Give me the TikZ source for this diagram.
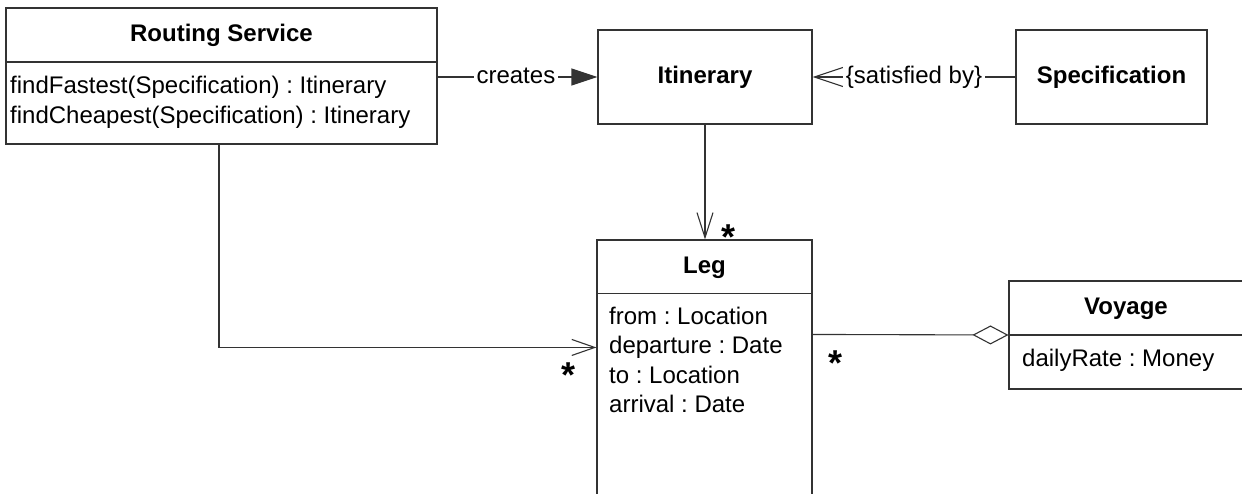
\documentclass[tikz,border=0pt]{standalone}
\usepackage{fontspec}
\setmainfont{Liberation Sans}
\usetikzlibrary{arrows.meta,calc}
\frenchspacing
\begin{document}
\begin{tikzpicture}[x=1pt,y=-1pt,
  box/.style={draw=black!80, line width=1.1pt, fill=white, inner sep=0pt, font=\fontsize{24}{28}\selectfont\bfseries},
  txt/.style={inner sep=0pt, text height=17pt, text depth=5pt, font=\fontsize{24}{28}\selectfont},
  hdr/.style={txt, font=\fontsize{24}{28}\selectfont\bfseries},
  conn/.style={draw=black!80, line width=1.1pt},
  lbl/.style={txt, fill=white, inner xsep=3pt},
  mult/.style={inner sep=0pt, font=\fontsize{36}{36}\selectfont\bfseries},
  divider/.style={draw=black!80, line width=1.1pt}]
\clip (0,0) rectangle (1242,493);
\fill[white] (0,0) rectangle (1242,493);

% Routing Service
\node[box, minimum width=431pt, minimum height=136pt] (rs) at (221.5,76) {};
\draw[divider] ($(rs.north west)+(0,54.5)$) -- ($(rs.north east)+(0,54.5)$);
\node[hdr] (rsname) at (221.5,35) {Routing Service};
\node[txt, anchor=west] (rsm1) at (10,87) {findFastest(Specification) : Itinerary};
\node[txt, anchor=west] (rsm2) at (10,117) {findCheapest(Specification) : Itinerary};

% Itinerary
\node[box, minimum width=214pt, minimum height=94pt] (itin) at (705,77) {Itinerary};

% Specification
\node[box, minimum width=191pt, minimum height=94pt] (spec) at (1111.5,77) {Specification};

% Leg
\node[box, minimum width=215pt, minimum height=280pt] (leg) at (704.5,380) {};
\draw[divider] ($(leg.north west)+(0,54)$) -- ($(leg.north east)+(0,54)$);
\node[hdr] (legname) at (704.5,267) {Leg};
\node[txt, anchor=west] (la1) at (609,318) {from : Location};
\node[txt, anchor=west] (la2) at (609,347.5) {departure : Date};
\node[txt, anchor=west] (la3) at (609,377) {to : Location};
\node[txt, anchor=west] (la4) at (609,406.5) {arrival : Date};

% Voyage
\node[box, minimum width=234pt, minimum height=108pt] (voy) at (1126,335) {};
\draw[divider] ($(voy.north west)+(0,54.5)$) -- ($(voy.north east)+(0,54.5)$);
\node[hdr] (voyname) at (1126,308) {Voyage};
\node[txt, anchor=west] (va1) at (1022,360) {dailyRate : Money};

% connectors
\draw[conn, -{Triangle[length=26pt,width=17pt]}] (rs.east |- itin.west) -- node[lbl, pos=0.49] (creates) {creates} (itin.west);
\draw[conn, -{Straight Barb[length=30pt,width=20pt]}] (spec.west) -- node[lbl, pos=0.5] (sat) {\{satisfied by\}} (itin.east);
\draw[conn, -{Straight Barb[length=25pt,width=16pt]}] (itin.south) -- (itin.south |- leg.north);
\draw[conn, -{Straight Barb[length=23pt,width=16pt]}] ($(rs.south)+(-2.5,0)$) |- ($(leg.north west)+(0,108)$);
\draw[conn, -{Diamond[open,fill=white,length=36pt,width=19pt]}] ($(leg.north east)+(0,95)$) -- (voy.west);

% multiplicities
\node[mult, anchor=north] (m1) at (728,225) {*};
\node[mult, anchor=north] (m2) at (568,363) {*};
\node[mult, anchor=north] (m3) at (835,351) {*};
\end{tikzpicture}
\end{document}
